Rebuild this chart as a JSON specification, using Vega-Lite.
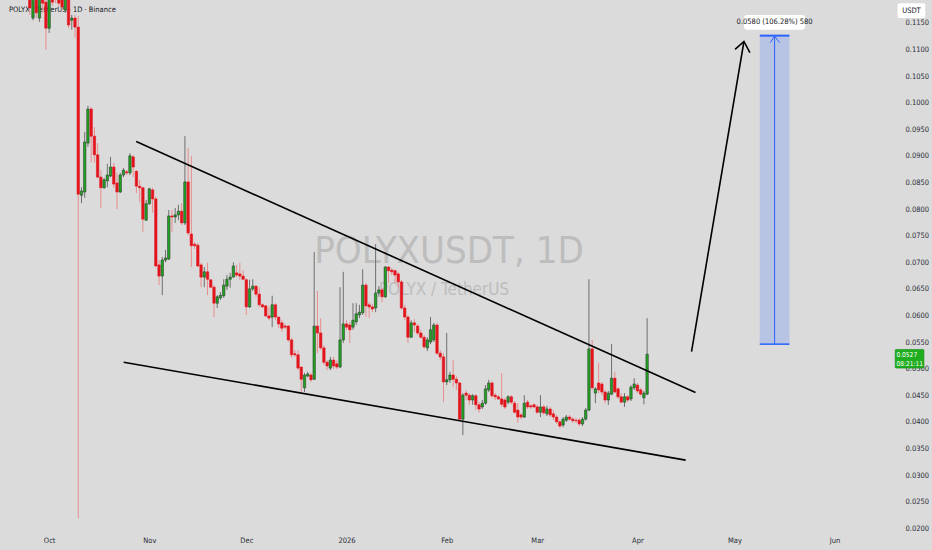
{
  "$schema": "https://vega.github.io/schema/vega-lite/v6.json",
  "width": 896,
  "height": 530,
  "autosize": {"type": "none"},
  "padding": {"left": 0, "top": 0, "right": 36, "bottom": 20},
  "background": "#dbdbdb",
  "config": {
    "view": {"stroke": null},
    "axis": {
      "labelFont": "Liberation Sans Narrow, DejaVu Sans Condensed, Liberation Sans",
      "labelColor": "#2a2e39",
      "labelFontSize": 7.5,
      "grid": false,
      "ticks": false,
      "domain": false,
      "labelOverlap": false
    },
    "axisY": {"tickCount": 20},
    "text": {"font": "Liberation Sans Narrow, DejaVu Sans Condensed, Liberation Sans"}
  },
  "datasets": {
    "candles": [
      {"d":"2025-09-25","o":0.1212,"h":0.1219,"l":0.1165,"c":0.1178},
      {"d":"2025-09-26","o":0.1159,"h":0.1208,"l":0.1155,"c":0.1202},
      {"d":"2025-09-27","o":0.1199,"h":0.1204,"l":0.1159,"c":0.1169},
      {"d":"2025-09-28","o":0.1159,"h":0.1204,"l":0.1152,"c":0.1199},
      {"d":"2025-09-29","o":0.1202,"h":0.1208,"l":0.1169,"c":0.1187},
      {"d":"2025-09-30","o":0.1189,"h":0.1193,"l":0.1099,"c":0.1140},
      {"d":"2025-10-01","o":0.1140,"h":0.1208,"l":0.1131,"c":0.1197},
      {"d":"2025-10-02","o":0.1197,"h":0.1204,"l":0.1182,"c":0.1189},
      {"d":"2025-10-03","o":0.1204,"h":0.1210,"l":0.1187,"c":0.1195},
      {"d":"2025-10-04","o":0.1195,"h":0.1201,"l":0.1182,"c":0.1187},
      {"d":"2025-10-05","o":0.1193,"h":0.1199,"l":0.1174,"c":0.1180},
      {"d":"2025-10-06","o":0.1174,"h":0.1204,"l":0.1169,"c":0.1199},
      {"d":"2025-10-07","o":0.1197,"h":0.1202,"l":0.1140,"c":0.1146},
      {"d":"2025-10-08","o":0.1155,"h":0.1165,"l":0.1137,"c":0.1159},
      {"d":"2025-10-09","o":0.1159,"h":0.1165,"l":0.1122,"c":0.1142},
      {"d":"2025-10-10","o":0.1142,"h":0.1163,"l":0.0219,"c":0.0828},
      {"d":"2025-10-11","o":0.0826,"h":0.0841,"l":0.0811,"c":0.0834},
      {"d":"2025-10-12","o":0.0832,"h":0.0945,"l":0.0821,"c":0.0926},
      {"d":"2025-10-13","o":0.0924,"h":0.0994,"l":0.0917,"c":0.0988},
      {"d":"2025-10-14","o":0.0988,"h":0.0992,"l":0.0888,"c":0.0937},
      {"d":"2025-10-15","o":0.0937,"h":0.0954,"l":0.0887,"c":0.0902},
      {"d":"2025-10-16","o":0.0902,"h":0.0924,"l":0.0858,"c":0.0860},
      {"d":"2025-10-17","o":0.0860,"h":0.0873,"l":0.0802,"c":0.0840},
      {"d":"2025-10-18","o":0.0840,"h":0.0858,"l":0.0838,"c":0.0855},
      {"d":"2025-10-19","o":0.0853,"h":0.0885,"l":0.0841,"c":0.0864},
      {"d":"2025-10-20","o":0.0862,"h":0.0898,"l":0.0860,"c":0.0879},
      {"d":"2025-10-21","o":0.0879,"h":0.0887,"l":0.0840,"c":0.0847},
      {"d":"2025-10-22","o":0.0849,"h":0.0868,"l":0.0800,"c":0.0832},
      {"d":"2025-10-23","o":0.0832,"h":0.0868,"l":0.0830,"c":0.0864},
      {"d":"2025-10-24","o":0.0864,"h":0.0877,"l":0.0860,"c":0.0873},
      {"d":"2025-10-25","o":0.0870,"h":0.0873,"l":0.0864,"c":0.0868},
      {"d":"2025-10-26","o":0.0868,"h":0.0905,"l":0.0864,"c":0.0900},
      {"d":"2025-10-27","o":0.0898,"h":0.0902,"l":0.0860,"c":0.0879},
      {"d":"2025-10-28","o":0.0871,"h":0.0873,"l":0.0830,"c":0.0843},
      {"d":"2025-10-29","o":0.0843,"h":0.0855,"l":0.0813,"c":0.0840},
      {"d":"2025-10-30","o":0.0840,"h":0.0841,"l":0.0757,"c":0.0781},
      {"d":"2025-10-31","o":0.0779,"h":0.0817,"l":0.0778,"c":0.0810},
      {"d":"2025-11-01","o":0.0810,"h":0.0840,"l":0.0808,"c":0.0838},
      {"d":"2025-11-02","o":0.0836,"h":0.0840,"l":0.0793,"c":0.0819},
      {"d":"2025-11-03","o":0.0819,"h":0.0823,"l":0.0691,"c":0.0693},
      {"d":"2025-11-04","o":0.0695,"h":0.0704,"l":0.0657,"c":0.0674},
      {"d":"2025-11-05","o":0.0674,"h":0.0710,"l":0.0638,"c":0.0704},
      {"d":"2025-11-06","o":0.0704,"h":0.0723,"l":0.0700,"c":0.0708},
      {"d":"2025-11-07","o":0.0706,"h":0.0798,"l":0.0704,"c":0.0787},
      {"d":"2025-11-08","o":0.0787,"h":0.0798,"l":0.0757,"c":0.0785},
      {"d":"2025-11-09","o":0.0785,"h":0.0802,"l":0.0774,"c":0.0789},
      {"d":"2025-11-10","o":0.0789,"h":0.0808,"l":0.0779,"c":0.0796},
      {"d":"2025-11-11","o":0.0796,"h":0.0811,"l":0.0770,"c":0.0774},
      {"d":"2025-11-12","o":0.0774,"h":0.0937,"l":0.0770,"c":0.0851},
      {"d":"2025-11-13","o":0.0851,"h":0.0915,"l":0.0751,"c":0.0755},
      {"d":"2025-11-14","o":0.0753,"h":0.0900,"l":0.0691,"c":0.0731},
      {"d":"2025-11-15","o":0.0734,"h":0.0738,"l":0.0725,"c":0.0731},
      {"d":"2025-11-16","o":0.0732,"h":0.0736,"l":0.0691,"c":0.0693},
      {"d":"2025-11-17","o":0.0695,"h":0.0699,"l":0.0653,"c":0.0672},
      {"d":"2025-11-18","o":0.0672,"h":0.0691,"l":0.0653,"c":0.0682},
      {"d":"2025-11-19","o":0.0682,"h":0.0699,"l":0.0638,"c":0.0668},
      {"d":"2025-11-20","o":0.0667,"h":0.0667,"l":0.0652,"c":0.0653},
      {"d":"2025-11-21","o":0.0653,"h":0.0657,"l":0.0597,"c":0.0623},
      {"d":"2025-11-22","o":0.0623,"h":0.0638,"l":0.0614,"c":0.0635},
      {"d":"2025-11-23","o":0.0633,"h":0.0644,"l":0.0629,"c":0.0638},
      {"d":"2025-11-24","o":0.0637,"h":0.0668,"l":0.0633,"c":0.0657},
      {"d":"2025-11-25","o":0.0655,"h":0.0676,"l":0.0648,"c":0.0668},
      {"d":"2025-11-26","o":0.0668,"h":0.0680,"l":0.0652,"c":0.0672},
      {"d":"2025-11-27","o":0.0672,"h":0.0700,"l":0.0672,"c":0.0693},
      {"d":"2025-11-28","o":0.0680,"h":0.0695,"l":0.0672,"c":0.0676},
      {"d":"2025-11-29","o":0.0678,"h":0.0699,"l":0.0667,"c":0.0674},
      {"d":"2025-11-30","o":0.0674,"h":0.0685,"l":0.0667,"c":0.0668},
      {"d":"2025-12-01","o":0.0667,"h":0.0670,"l":0.0601,"c":0.0616},
      {"d":"2025-12-02","o":0.0616,"h":0.0667,"l":0.0614,"c":0.0650},
      {"d":"2025-12-03","o":0.0650,"h":0.0668,"l":0.0646,"c":0.0655},
      {"d":"2025-12-04","o":0.0655,"h":0.0657,"l":0.0635,"c":0.0640},
      {"d":"2025-12-05","o":0.0640,"h":0.0653,"l":0.0616,"c":0.0620},
      {"d":"2025-12-06","o":0.0620,"h":0.0623,"l":0.0614,"c":0.0616},
      {"d":"2025-12-07","o":0.0618,"h":0.0620,"l":0.0597,"c":0.0599},
      {"d":"2025-12-08","o":0.0599,"h":0.0616,"l":0.0591,"c":0.0595},
      {"d":"2025-12-09","o":0.0597,"h":0.0637,"l":0.0578,"c":0.0620},
      {"d":"2025-12-10","o":0.0620,"h":0.0623,"l":0.0591,"c":0.0597},
      {"d":"2025-12-11","o":0.0597,"h":0.0597,"l":0.0576,"c":0.0584},
      {"d":"2025-12-12","o":0.0586,"h":0.0591,"l":0.0569,"c":0.0576},
      {"d":"2025-12-13","o":0.0580,"h":0.0584,"l":0.0574,"c":0.0578},
      {"d":"2025-12-14","o":0.0580,"h":0.0582,"l":0.0550,"c":0.0554},
      {"d":"2025-12-15","o":0.0554,"h":0.0558,"l":0.0520,"c":0.0526},
      {"d":"2025-12-16","o":0.0528,"h":0.0535,"l":0.0522,"c":0.0526},
      {"d":"2025-12-17","o":0.0526,"h":0.0535,"l":0.0497,"c":0.0501},
      {"d":"2025-12-18","o":0.0503,"h":0.0503,"l":0.0456,"c":0.0480},
      {"d":"2025-12-19","o":0.0464,"h":0.0492,"l":0.0456,"c":0.0488},
      {"d":"2025-12-20","o":0.0486,"h":0.0494,"l":0.0484,"c":0.0490},
      {"d":"2025-12-21","o":0.0488,"h":0.0492,"l":0.0475,"c":0.0479},
      {"d":"2025-12-22","o":0.0480,"h":0.0719,"l":0.0479,"c":0.0580},
      {"d":"2025-12-23","o":0.0580,"h":0.0646,"l":0.0529,"c":0.0567},
      {"d":"2025-12-24","o":0.0567,"h":0.0595,"l":0.0535,"c":0.0539},
      {"d":"2025-12-25","o":0.0539,"h":0.0544,"l":0.0507,"c":0.0512},
      {"d":"2025-12-26","o":0.0512,"h":0.0516,"l":0.0497,"c":0.0505},
      {"d":"2025-12-27","o":0.0501,"h":0.0522,"l":0.0497,"c":0.0516},
      {"d":"2025-12-28","o":0.0516,"h":0.0522,"l":0.0499,"c":0.0505},
      {"d":"2025-12-29","o":0.0509,"h":0.0516,"l":0.0499,"c":0.0503},
      {"d":"2025-12-30","o":0.0503,"h":0.0653,"l":0.0501,"c":0.0554},
      {"d":"2025-12-31","o":0.0554,"h":0.0682,"l":0.0548,"c":0.0584},
      {"d":"2026-01-01","o":0.0584,"h":0.0591,"l":0.0573,"c":0.0578},
      {"d":"2026-01-02","o":0.0582,"h":0.0588,"l":0.0548,"c":0.0573},
      {"d":"2026-01-03","o":0.0578,"h":0.0623,"l":0.0573,"c":0.0591},
      {"d":"2026-01-04","o":0.0588,"h":0.0623,"l":0.0582,"c":0.0603},
      {"d":"2026-01-05","o":0.0601,"h":0.0620,"l":0.0595,"c":0.0606},
      {"d":"2026-01-06","o":0.0605,"h":0.0687,"l":0.0601,"c":0.0657},
      {"d":"2026-01-07","o":0.0657,"h":0.0661,"l":0.0597,"c":0.0618},
      {"d":"2026-01-08","o":0.0620,"h":0.0625,"l":0.0595,"c":0.0616},
      {"d":"2026-01-09","o":0.0616,"h":0.0622,"l":0.0606,"c":0.0612},
      {"d":"2026-01-10","o":0.0614,"h":0.0734,"l":0.0606,"c":0.0642},
      {"d":"2026-01-11","o":0.0642,"h":0.0655,"l":0.0635,"c":0.0648},
      {"d":"2026-01-12","o":0.0648,"h":0.0652,"l":0.0625,"c":0.0635},
      {"d":"2026-01-13","o":0.0635,"h":0.0693,"l":0.0633,"c":0.0691},
      {"d":"2026-01-14","o":0.0691,"h":0.0693,"l":0.0661,"c":0.0684},
      {"d":"2026-01-15","o":0.0685,"h":0.0689,"l":0.0676,"c":0.0682},
      {"d":"2026-01-16","o":0.0684,"h":0.0687,"l":0.0661,"c":0.0676},
      {"d":"2026-01-17","o":0.0678,"h":0.0682,"l":0.0653,"c":0.0663},
      {"d":"2026-01-18","o":0.0663,"h":0.0667,"l":0.0610,"c":0.0614},
      {"d":"2026-01-19","o":0.0614,"h":0.0620,"l":0.0591,"c":0.0597},
      {"d":"2026-01-20","o":0.0597,"h":0.0601,"l":0.0548,"c":0.0559},
      {"d":"2026-01-21","o":0.0559,"h":0.0591,"l":0.0558,"c":0.0586},
      {"d":"2026-01-22","o":0.0586,"h":0.0593,"l":0.0569,"c":0.0582},
      {"d":"2026-01-23","o":0.0580,"h":0.0584,"l":0.0563,"c":0.0567},
      {"d":"2026-01-24","o":0.0567,"h":0.0573,"l":0.0556,"c":0.0559},
      {"d":"2026-01-25","o":0.0559,"h":0.0563,"l":0.0537,"c":0.0541},
      {"d":"2026-01-26","o":0.0539,"h":0.0559,"l":0.0533,"c":0.0554},
      {"d":"2026-01-27","o":0.0550,"h":0.0597,"l":0.0546,"c":0.0573},
      {"d":"2026-01-28","o":0.0554,"h":0.0586,"l":0.0550,"c":0.0582},
      {"d":"2026-01-29","o":0.0582,"h":0.0586,"l":0.0526,"c":0.0529},
      {"d":"2026-01-30","o":0.0529,"h":0.0535,"l":0.0516,"c":0.0522},
      {"d":"2026-01-31","o":0.0522,"h":0.0529,"l":0.0437,"c":0.0475},
      {"d":"2026-02-01","o":0.0475,"h":0.0567,"l":0.0469,"c":0.0479},
      {"d":"2026-02-02","o":0.0479,"h":0.0494,"l":0.0473,"c":0.0488},
      {"d":"2026-02-03","o":0.0488,"h":0.0516,"l":0.0465,"c":0.0480},
      {"d":"2026-02-04","o":0.0480,"h":0.0486,"l":0.0460,"c":0.0473},
      {"d":"2026-02-05","o":0.0473,"h":0.0475,"l":0.0403,"c":0.0405},
      {"d":"2026-02-06","o":0.0405,"h":0.0454,"l":0.0375,"c":0.0450},
      {"d":"2026-02-07","o":0.0454,"h":0.0460,"l":0.0441,"c":0.0450},
      {"d":"2026-02-08","o":0.0450,"h":0.0454,"l":0.0432,"c":0.0441},
      {"d":"2026-02-09","o":0.0441,"h":0.0452,"l":0.0432,"c":0.0449},
      {"d":"2026-02-10","o":0.0449,"h":0.0452,"l":0.0422,"c":0.0432},
      {"d":"2026-02-11","o":0.0432,"h":0.0437,"l":0.0417,"c":0.0424},
      {"d":"2026-02-12","o":0.0428,"h":0.0441,"l":0.0424,"c":0.0435},
      {"d":"2026-02-13","o":0.0435,"h":0.0469,"l":0.0432,"c":0.0462},
      {"d":"2026-02-14","o":0.0460,"h":0.0479,"l":0.0456,"c":0.0473},
      {"d":"2026-02-15","o":0.0473,"h":0.0477,"l":0.0445,"c":0.0449},
      {"d":"2026-02-16","o":0.0450,"h":0.0454,"l":0.0441,"c":0.0447},
      {"d":"2026-02-17","o":0.0447,"h":0.0450,"l":0.0441,"c":0.0443},
      {"d":"2026-02-18","o":0.0443,"h":0.0492,"l":0.0428,"c":0.0433},
      {"d":"2026-02-19","o":0.0441,"h":0.0445,"l":0.0424,"c":0.0428},
      {"d":"2026-02-20","o":0.0437,"h":0.0450,"l":0.0433,"c":0.0447},
      {"d":"2026-02-21","o":0.0447,"h":0.0450,"l":0.0433,"c":0.0437},
      {"d":"2026-02-22","o":0.0435,"h":0.0439,"l":0.0415,"c":0.0418},
      {"d":"2026-02-23","o":0.0422,"h":0.0435,"l":0.0398,"c":0.0409},
      {"d":"2026-02-24","o":0.0413,"h":0.0417,"l":0.0405,"c":0.0409},
      {"d":"2026-02-25","o":0.0409,"h":0.0450,"l":0.0407,"c":0.0435},
      {"d":"2026-02-26","o":0.0437,"h":0.0441,"l":0.0424,"c":0.0428},
      {"d":"2026-02-27","o":0.0430,"h":0.0433,"l":0.0424,"c":0.0428},
      {"d":"2026-02-28","o":0.0432,"h":0.0435,"l":0.0426,"c":0.0428},
      {"d":"2026-03-01","o":0.0428,"h":0.0432,"l":0.0415,"c":0.0418},
      {"d":"2026-03-02","o":0.0418,"h":0.0450,"l":0.0409,"c":0.0428},
      {"d":"2026-03-03","o":0.0428,"h":0.0432,"l":0.0413,"c":0.0417},
      {"d":"2026-03-04","o":0.0415,"h":0.0430,"l":0.0411,"c":0.0424},
      {"d":"2026-03-05","o":0.0424,"h":0.0428,"l":0.0409,"c":0.0413},
      {"d":"2026-03-06","o":0.0415,"h":0.0422,"l":0.0403,"c":0.0409},
      {"d":"2026-03-07","o":0.0409,"h":0.0413,"l":0.0396,"c":0.0400},
      {"d":"2026-03-08","o":0.0400,"h":0.0403,"l":0.0388,"c":0.0392},
      {"d":"2026-03-09","o":0.0394,"h":0.0409,"l":0.0390,"c":0.0405},
      {"d":"2026-03-10","o":0.0403,"h":0.0413,"l":0.0400,"c":0.0409},
      {"d":"2026-03-11","o":0.0409,"h":0.0413,"l":0.0402,"c":0.0405},
      {"d":"2026-03-12","o":0.0405,"h":0.0409,"l":0.0398,"c":0.0402},
      {"d":"2026-03-13","o":0.0403,"h":0.0407,"l":0.0398,"c":0.0402},
      {"d":"2026-03-14","o":0.0403,"h":0.0407,"l":0.0392,"c":0.0396},
      {"d":"2026-03-15","o":0.0396,"h":0.0409,"l":0.0392,"c":0.0405},
      {"d":"2026-03-16","o":0.0405,"h":0.0426,"l":0.0402,"c":0.0422},
      {"d":"2026-03-17","o":0.0422,"h":0.0668,"l":0.0420,"c":0.0537},
      {"d":"2026-03-18","o":0.0537,"h":0.0554,"l":0.0460,"c":0.0464},
      {"d":"2026-03-19","o":0.0454,"h":0.0465,"l":0.0435,"c":0.0462},
      {"d":"2026-03-20","o":0.0473,"h":0.0511,"l":0.0454,"c":0.0460},
      {"d":"2026-03-21","o":0.0471,"h":0.0475,"l":0.0450,"c":0.0456},
      {"d":"2026-03-22","o":0.0456,"h":0.0460,"l":0.0435,"c":0.0441},
      {"d":"2026-03-23","o":0.0441,"h":0.0458,"l":0.0432,"c":0.0454},
      {"d":"2026-03-24","o":0.0452,"h":0.0546,"l":0.0450,"c":0.0482},
      {"d":"2026-03-25","o":0.0482,"h":0.0494,"l":0.0454,"c":0.0456},
      {"d":"2026-03-26","o":0.0462,"h":0.0465,"l":0.0443,"c":0.0447},
      {"d":"2026-03-27","o":0.0447,"h":0.0454,"l":0.0435,"c":0.0437},
      {"d":"2026-03-28","o":0.0437,"h":0.0454,"l":0.0428,"c":0.0447},
      {"d":"2026-03-29","o":0.0447,"h":0.0450,"l":0.0437,"c":0.0441},
      {"d":"2026-03-30","o":0.0443,"h":0.0469,"l":0.0439,"c":0.0465},
      {"d":"2026-03-31","o":0.0464,"h":0.0482,"l":0.0460,"c":0.0471},
      {"d":"2026-04-01","o":0.0469,"h":0.0473,"l":0.0454,"c":0.0458},
      {"d":"2026-04-02","o":0.0460,"h":0.0464,"l":0.0449,"c":0.0452},
      {"d":"2026-04-03","o":0.0445,"h":0.0458,"l":0.0433,"c":0.0454},
      {"d":"2026-04-04","o":0.0452,"h":0.0595,"l":0.0450,"c":0.0527}
    ],
    "blackLines": [
      {"g":"upper","k":0,"d":"2025-10-27T22:30:00Z","p":0.0927},
      {"g":"upper","k":1,"d":"2026-04-18T23:15:00Z","p":0.0455},
      {"g":"lower","k":0,"d":"2025-10-24T01:10:00Z","p":0.0512},
      {"g":"lower","k":1,"d":"2026-04-15T21:50:00Z","p":0.0328},
      {"g":"shaft","k":0,"d":"2026-04-17T17:45:00Z","p":0.0532},
      {"g":"shaft","k":1,"d":"2026-05-03T23:00:00Z","p":0.1115},
      {"g":"head","k":0,"d":"2026-05-01T04:50:00Z","p":0.1100},
      {"g":"head","k":1,"d":"2026-05-03T23:00:00Z","p":0.1115},
      {"g":"head","k":2,"d":"2026-05-05T19:00:00Z","p":0.1094}
    ],
    "blueHead": [
      {"k":0,"d":"2026-05-12T02:50:00Z","p":0.1113},
      {"k":1,"d":"2026-05-13T10:35:00Z","p":0.1125},
      {"k":2,"d":"2026-05-14T23:15:00Z","p":0.1113}
    ],
    "target": [
      {"d":"2026-05-08T20:25:00Z","d2":"2026-05-18T00:45:00Z","dm":"2026-05-13T10:35:00Z","lo":0.0546,"hi":0.1126}
    ],
    "labelBox": [
      {"d":"2026-05-03T23:00:00Z","d2":"2026-05-22T22:05:00Z","dm":"2026-05-13T10:35:00Z","p":0.1165,"p2":0.1137,"pm":0.1151,"t":"0.0580 (106.28%) 580"}
    ],
    "priceTag": [
      {"d":"2026-06-19T18:00:00Z","d2":"2026-06-28T15:20:00Z","dx":"2026-06-20T03:00:00Z","p":0.0536,"p2":0.0501,"t1":"0.0527","t2":"08:21:11","pm1":0.0526,"pm2":0.0509}
    ],
    "unitTag": [
      {"d":"2026-06-20T11:45:00Z","d2":"2026-06-29T01:25:00Z","dm":"2026-06-24T18:45:00Z","p":0.1187,"p2":0.1159,"pm":0.1173,"t":"USDT"}
    ],
    "texts": [
      {"kind":"title","d":"2025-09-18T13:25:00Z","p":0.1174,"t":"POLYX / TetherUS · 1D · Binance"},
      {"kind":"wm1","d":"2026-02-01T16:50:00Z","p":0.0719,"t":"POLYXUSDT, 1D"},
      {"kind":"wm2","d":"2026-01-31T04:05:00Z","p":0.0648,"t":"POLYX / TetherUS"}
    ]
  },
  "layer": [
    {
      "data": {"name": "texts"},
      "transform": [{"filter": "datum.kind == 'title'"}],
      "mark": {"type": "text", "align": "left", "baseline": "middle", "fontSize": 7.5, "color": "#131722"},
      "encoding": {
        "x": {
          "field": "d", "type": "temporal",
          "scale": {"type": "utc", "domain": [{"year": 2025, "month": 9, "date": 17, "hours": 8, "minutes": 10, "utc": true}, {"year": 2026, "month": 6, "date": 18, "hours": 10, "minutes": 48, "utc": true}]},
          "axis": {
            "values": [
              {"year": 2025, "month": 10, "date": 1, "utc": true},
              {"year": 2025, "month": 11, "date": 1, "utc": true},
              {"year": 2025, "month": 12, "date": 1, "utc": true},
              {"year": 2026, "month": 1, "date": 1, "utc": true},
              {"year": 2026, "month": 2, "date": 1, "utc": true},
              {"year": 2026, "month": 3, "date": 1, "utc": true},
              {"year": 2026, "month": 4, "date": 1, "utc": true},
              {"year": 2026, "month": 5, "date": 1, "utc": true},
              {"year": 2026, "month": 6, "date": 1, "utc": true}
            ],
            "labelExpr": "utcmonth(datum.value) == 0 ? utcFormat(datum.value, '%Y') : utcFormat(datum.value, '%b')",
            "labelPadding": 6,
            "title": null,
            "labelFlush": false,
            "orient": "bottom"
          }
        },
        "y": {
          "field": "p", "type": "quantitative",
          "scale": {"domain": [0.01966, 0.1193], "zero": false, "nice": false},
          "axis": {
            "orient": "right",
            "values": [0.02, 0.025, 0.03, 0.035, 0.04, 0.045, 0.05, 0.055, 0.06, 0.065, 0.07, 0.075, 0.08, 0.085, 0.09, 0.095, 0.1, 0.105, 0.11, 0.115],
            "tickCount": 20,
            "labelOverlap": false,
            "format": ".4f",
            "labelPadding": 9,
            "labelAlign": "left",
            "title": null
          }
        },
        "text": {"field": "t"}
      }
    },
    {
      "data": {"name": "texts"},
      "transform": [{"filter": "datum.kind == 'wm1'"}],
      "mark": {"type": "text", "align": "center", "baseline": "middle", "fontSize": 38, "color": "#bdbdbd"},
      "encoding": {
        "x": {"field": "d", "type": "temporal", "axis": {"title": null}},
        "y": {"field": "p", "type": "quantitative", "axis": {"title": null}},
        "text": {"field": "t"}
      }
    },
    {
      "data": {"name": "texts"},
      "transform": [{"filter": "datum.kind == 'wm2'"}],
      "mark": {"type": "text", "align": "center", "baseline": "middle", "fontSize": 17, "color": "#bdbdbd"},
      "encoding": {
        "x": {"field": "d", "type": "temporal", "axis": {"title": null}},
        "y": {"field": "p", "type": "quantitative", "axis": {"title": null}},
        "text": {"field": "t"}
      }
    },
    {
      "mark": {"type": "rule", "color": "#a3d9a3", "strokeWidth": 1},
      "encoding": {"y": {"datum": 0.0527, "type": "quantitative", "axis": {"title": null}}}
    },
    {
      "data": {"name": "candles"},
      "mark": {"type": "rule", "strokeWidth": 1, "clip": true},
      "encoding": {
        "x": {"field": "d", "type": "temporal", "axis": {"title": null}},
        "y": {"field": "l", "type": "quantitative", "axis": {"title": null}},
        "y2": {"field": "h"},
        "color": {"condition": {"test": "datum.c >= datum.o", "value": "#6f6f6f"}, "value": "#e88d8d"}
      }
    },
    {
      "data": {"name": "candles"},
      "mark": {"type": "bar", "width": 2.4, "strokeWidth": 0.6, "clip": true},
      "encoding": {
        "x": {"field": "d", "type": "temporal", "axis": {"title": null}},
        "y": {"field": "o", "type": "quantitative", "axis": {"title": null}},
        "y2": {"field": "c"},
        "fill": {"condition": {"test": "datum.c >= datum.o", "value": "#1fa51f"}, "value": "#e3141c"},
        "stroke": {"condition": {"test": "datum.c >= datum.o", "value": "#2e3f30"}, "value": "#e3141c"}
      }
    },
    {
      "data": {"name": "blackLines"},
      "mark": {"type": "line", "color": "#000000", "strokeWidth": 1.6},
      "encoding": {
        "x": {"field": "d", "type": "temporal", "axis": {"title": null}},
        "y": {"field": "p", "type": "quantitative", "axis": {"title": null}},
        "detail": {"field": "g"},
        "order": {"field": "k"}
      }
    },
    {
      "data": {"name": "target"},
      "mark": {"type": "rect", "fill": "#2962ff", "fillOpacity": 0.2},
      "encoding": {
        "x": {"field": "d", "type": "temporal", "axis": {"title": null}},
        "x2": {"field": "d2"},
        "y": {"field": "lo", "type": "quantitative", "axis": {"title": null}},
        "y2": {"field": "hi"}
      }
    },
    {
      "data": {"name": "target"},
      "mark": {"type": "rule", "color": "#2962ff", "strokeWidth": 2},
      "encoding": {
        "x": {"field": "d", "type": "temporal", "axis": {"title": null}},
        "x2": {"field": "d2"},
        "y": {"field": "hi", "type": "quantitative", "axis": {"title": null}}
      }
    },
    {
      "data": {"name": "target"},
      "mark": {"type": "rule", "color": "#2962ff", "strokeWidth": 1.5},
      "encoding": {
        "x": {"field": "d", "type": "temporal", "axis": {"title": null}},
        "x2": {"field": "d2"},
        "y": {"field": "lo", "type": "quantitative", "axis": {"title": null}}
      }
    },
    {
      "data": {"name": "target"},
      "mark": {"type": "rule", "color": "#2962ff", "strokeWidth": 1},
      "encoding": {
        "x": {"field": "dm", "type": "temporal", "axis": {"title": null}},
        "y": {"field": "lo", "type": "quantitative", "axis": {"title": null}},
        "y2": {"field": "hi"}
      }
    },
    {
      "data": {"name": "blueHead"},
      "mark": {"type": "line", "color": "#2962ff", "strokeWidth": 1},
      "encoding": {
        "x": {"field": "d", "type": "temporal", "axis": {"title": null}},
        "y": {"field": "p", "type": "quantitative", "axis": {"title": null}},
        "order": {"field": "k"}
      }
    },
    {
      "data": {"name": "labelBox"},
      "mark": {"type": "rect", "fill": "#ffffff", "cornerRadius": 3},
      "encoding": {
        "x": {"field": "d", "type": "temporal", "axis": {"title": null}},
        "x2": {"field": "d2"},
        "y": {"field": "p", "type": "quantitative", "axis": {"title": null}},
        "y2": {"field": "p2"}
      }
    },
    {
      "data": {"name": "labelBox"},
      "mark": {"type": "text", "align": "center", "baseline": "middle", "fontSize": 7.5, "color": "#131722"},
      "encoding": {
        "x": {"field": "dm", "type": "temporal", "axis": {"title": null}},
        "y": {"field": "pm", "type": "quantitative", "axis": {"title": null}},
        "text": {"field": "t"}
      }
    },
    {
      "data": {"name": "priceTag"},
      "mark": {"type": "rect", "fill": "#1fae1f", "stroke": "#168a16", "strokeWidth": 0.6, "cornerRadius": 1},
      "encoding": {
        "x": {"field": "d", "type": "temporal", "axis": {"title": null}},
        "x2": {"field": "d2"},
        "y": {"field": "p", "type": "quantitative", "axis": {"title": null}},
        "y2": {"field": "p2"}
      }
    },
    {
      "data": {"name": "priceTag"},
      "mark": {"type": "text", "align": "left", "baseline": "middle", "fontSize": 6.6, "color": "#ffffff"},
      "encoding": {
        "x": {"field": "dx", "type": "temporal", "axis": {"title": null}},
        "y": {"field": "pm1", "type": "quantitative", "axis": {"title": null}},
        "text": {"field": "t1"}
      }
    },
    {
      "data": {"name": "priceTag"},
      "mark": {"type": "text", "align": "left", "baseline": "middle", "fontSize": 6.6, "color": "#ffffff"},
      "encoding": {
        "x": {"field": "dx", "type": "temporal", "axis": {"title": null}},
        "y": {"field": "pm2", "type": "quantitative", "axis": {"title": null}},
        "text": {"field": "t2"}
      }
    },
    {
      "data": {"name": "unitTag"},
      "mark": {"type": "rect", "fill": "#ffffff", "cornerRadius": 2},
      "encoding": {
        "x": {"field": "d", "type": "temporal", "axis": {"title": null}},
        "x2": {"field": "d2"},
        "y": {"field": "p", "type": "quantitative", "axis": {"title": null}},
        "y2": {"field": "p2"}
      }
    },
    {
      "data": {"name": "unitTag"},
      "mark": {"type": "text", "align": "center", "baseline": "middle", "fontSize": 7.5, "color": "#131722"},
      "encoding": {
        "x": {"field": "dm", "type": "temporal", "axis": {"title": null}},
        "y": {"field": "pm", "type": "quantitative", "axis": {"title": null}},
        "text": {"field": "t"}
      }
    }
  ]
}
